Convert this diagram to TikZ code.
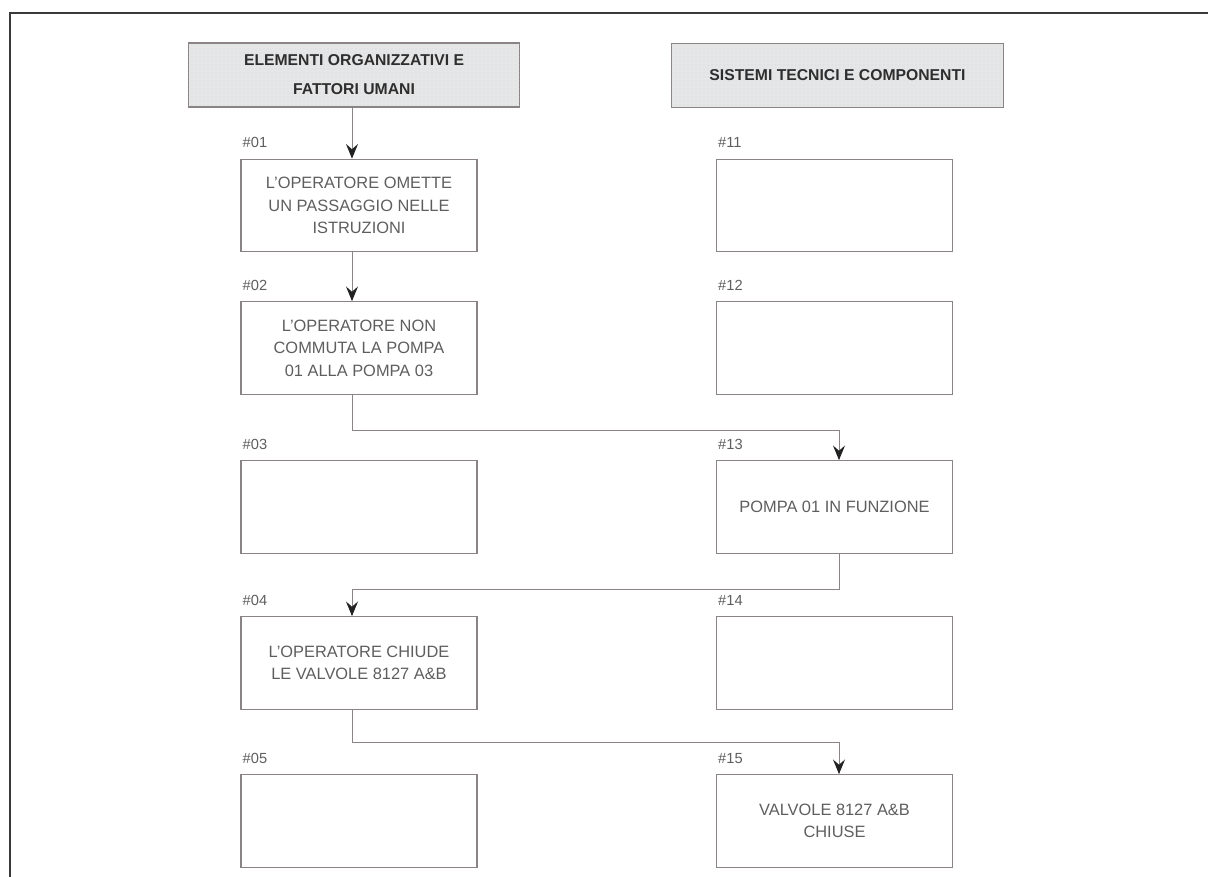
\documentclass[tikz,border=0pt]{standalone}
\usepackage{fontspec}
\setmainfont{Liberation Sans}
\usetikzlibrary{arrows.meta,calc,patterns}
\definecolor{boxtext}{HTML}{5E5E5E}
\definecolor{headtext}{HTML}{2E2E2E}
\definecolor{boxline}{HTML}{8A8484}
\definecolor{headfill}{HTML}{E6E6E6}
\definecolor{headdots}{HTML}{C8DDEA}
\definecolor{tipcol}{HTML}{222222}
\definecolor{framecol}{HTML}{3A3A3A}
\begin{document}
\begin{tikzpicture}[x=0.75pt,y=-0.75pt,
  ebox/.style={draw=boxline, line width=0.8pt, minimum width=177pt, minimum height=69.5pt,
    inner sep=0pt, align=center, text=boxtext, font=\fontsize{12.3}{16.9}\selectfont},
  headbox/.style={draw=boxline, line width=0.8pt, fill=headfill,
    postaction={pattern=dots, pattern color=headdots},
    minimum width=248.5pt, minimum height=48pt, inner sep=0pt, align=center,
    text=headtext, font=\bfseries\fontsize{11.8}{21.7}\selectfont},
  idlbl/.style={anchor=base west, inner sep=0pt, text=boxtext, font=\fontsize{11}{13}\selectfont},
  conn/.style={draw=boxline, line width=0.7pt,
    -{Stealth[length=11pt, width=9pt, inset=4pt, color=tipcol]}}
]
\useasboundingbox (0,0) rectangle (1208,877);

% outer frame (open to the right and bottom)
\draw[framecol, line width=1.5pt] (10,890) -- (10,13) -- (1220,13);

% column headers
\node[headbox] (h1) at (354,75) {ELEMENTI ORGANIZZATIVI E\\FATTORI UMANI};
\node[headbox] (h2) at (837.5,75.5) {SISTEMI TECNICI E COMPONENTI};

% left column: organisational elements and human factors
\node[ebox] (b01) at (359,205.5) {L'OPERATORE OMETTE\\UN PASSAGGIO NELLE\\ISTRUZIONI};
\node[ebox] (b02) at (359,348) {L'OPERATORE NON\\COMMUTA LA POMPA\\01 ALLA POMPA 03};
\node[ebox] (b03) at (359,507) {};
\node[ebox] (b04) at (359,663) {L'OPERATORE CHIUDE\\LE VALVOLE 8127 A\&B};
\node[ebox] (b05) at (359,821) {};

% right column: technical systems and components
\node[ebox] (b11) at (834.5,205.5) {};
\node[ebox] (b12) at (834.5,348) {};
\node[ebox] (b13) at (834.5,507) {POMPA 01 IN FUNZIONE};
\node[ebox] (b14) at (834.5,663) {};
\node[ebox] (b15) at (834.5,821) {VALVOLE 8127 A\&B\\CHIUSE};

% identifiers above each box
\foreach \b/\t in {b01/\#01, b02/\#02, b03/\#03, b04/\#04, b05/\#05,
                   b11/\#11, b12/\#12, b13/\#13, b14/\#14, b15/\#15}
  \node[idlbl] at ($(\b.north west)+(2,-11)$) {\t};

% lanes used by the connectors
\coordinate (lx) at (352,0);
\coordinate (rx) at (839,0);

% connectors
\draw[conn] (h1.south -| lx) -- (b01.north -| lx);
\draw[conn] (b01.south -| lx) -- (b02.north -| lx);
\draw[conn] (b02.south -| lx) -- ++(0,36) -| (b13.north -| rx);
\draw[conn] (b13.south -| rx) -- ++(0,36) -| (b04.north -| lx);
\draw[conn] (b04.south -| lx) -- ++(0,33) -| (b15.north -| rx);
\end{tikzpicture}
\end{document}
